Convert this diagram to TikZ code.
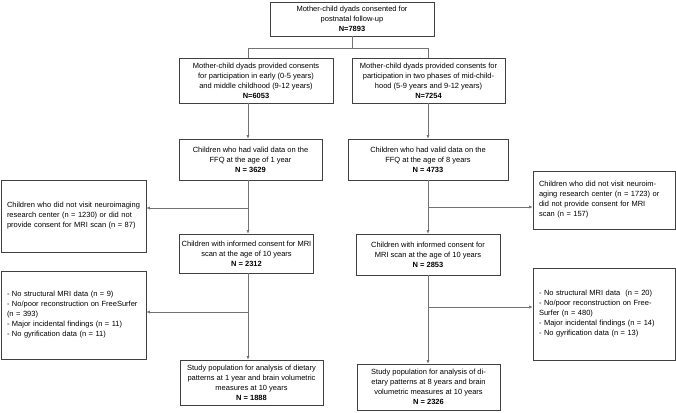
\documentclass[tikz,border=0pt]{standalone}
\usepackage{fontspec}
\setmainfont{Liberation Sans}
\usetikzlibrary{arrows.meta}
\begin{document}
\begin{tikzpicture}[x=1pt,y=-1pt,
  box/.style={draw=black!75, line width=0.6pt, align=center, inner sep=2pt,
    font=\fontsize{7.5}{10}\selectfont},
  exbox/.style={box, align=left, inner xsep=6pt, text width=#1},
  link/.style={draw=black!55, line width=0.6pt},
  arr/.style={link, -{Latex[length=3.5pt,width=3pt]}}]
\useasboundingbox (0,0) rectangle (676,412);

\node[box, minimum width=164pt, minimum height=34pt] (top) at (352,19) {Mother-child dyads consented for\\postnatal follow-up\\\textbf{N=7893}};

\node[box, minimum width=154pt, minimum height=45pt] (c2L) at (256,80.5) {Mother-child dyads provided consents\\for participation in early (0-5 years)\\and middle childhood (9-12 years)\\\textbf{N=6053}};
\node[box, minimum width=153pt, minimum height=45pt] (c2R) at (428.5,80.5) {Mother-child dyads provided consents for\\participation in two phases of mid-child-\\hood (5-9 years and 9-12 years)\\\textbf{N=7254}};

\node[box, minimum width=143pt, minimum height=41pt] (c3L) at (250.5,159.5) {Children who had valid data on the\\FFQ at the age of 1 year\\\textbf{N = 3629}};
\node[box, minimum width=160pt, minimum height=41pt] (c3R) at (428,159.5) {Children who had valid data on the\\FFQ at the age of 8 years\\\textbf{N = 4733}};

\node[exbox=133pt, minimum height=72pt] (exL1) at (73.5,216) {Children who did not visit neuroimaging\\research center (n = 1230) or did not\\provide consent for MRI scan (n = 87)};
\node[exbox=130pt, minimum height=58pt] (exR1) at (604,200) {Children who did not visit neuroim-\\aging research center (n = 1723) or\\did not provide consent for MRI\\scan (n = 157)};

\node[box, minimum width=133pt, minimum height=39pt] (c4L) at (246.5,253.5) {Children with informed consent for MRI\\scan at the age of 10 years\\\textbf{N = 2312}};
\node[box, minimum width=144pt, minimum height=41pt] (c4R) at (428,254.5) {Children with informed consent for\\MRI scan at the age of 10 years\\\textbf{N = 2853}};

\node[exbox=133pt, minimum height=88pt] (exL2) at (73.5,315) {- No structural MRI data (n = 9)\\- No/poor reconstruction on FreeSurfer\\(n = 393)\\- Major incidental findings (n = 11)\\- No gyrification data (n = 11)};
\node[exbox=130pt, minimum height=92pt] (exR2) at (604,314) {- No structural MRI data~ (n = 20)\\- No/poor reconstruction on Free-\\Surfer (n = 480)\\- Major incidental findings (n = 14)\\- No gyrification data (n = 13)};

\node[box, minimum width=143pt, minimum height=45pt] (c5L) at (251.5,382.5) {Study population for analysis of dietary\\patterns at 1 year and brain volumetric\\measures at 10 years\\\textbf{N = 1888}};
\node[box, minimum width=143pt, minimum height=46pt] (c5R) at (428.5,387) {Study population for analysis of di-\\etary patterns at 8 years and brain\\volumetric measures at 10 years\\\textbf{N = 2326}};

% split below the first box
\coordinate (splitL) at (248,48);
\coordinate (splitR) at (428,48);
\path[link] (top) -- (top.south |- splitL);
\path[link] (splitL) -- (splitR);
\path[link] (splitL) -- (splitL |- c2L.north);
\path[link] (splitR) -- (splitR |- c2R.north);

% main columns
\path[arr] (splitL |- c2L.south) -- (splitL |- c3L.north);
\path[arr] (splitR |- c2R.south) -- (splitR |- c3R.north);
\path[arr] (splitL |- c3L.south) -- (splitL |- c4L.north);
\path[arr] (splitR |- c3R.south) -- (splitR |- c4R.north);
\path[arr] (splitL |- c4L.south) -- (splitL |- c5L.north);
\path[arr] (splitR |- c4R.south) -- (splitR |- c5R.north);

% exclusions
\coordinate (exitL1) at (248,208);
\coordinate (exitR1) at (428,207);
\coordinate (exitL2) at (248,312);
\coordinate (exitR2) at (428,307);
\path[arr] (exitL1) -- (exitL1 -| exL1.east);
\path[arr] (exitR1) -- (exitR1 -| exR1.west);
\path[arr] (exitL2) -- (exitL2 -| exL2.east);
\path[arr] (exitR2) -- (exitR2 -| exR2.west);
\end{tikzpicture}
\end{document}
